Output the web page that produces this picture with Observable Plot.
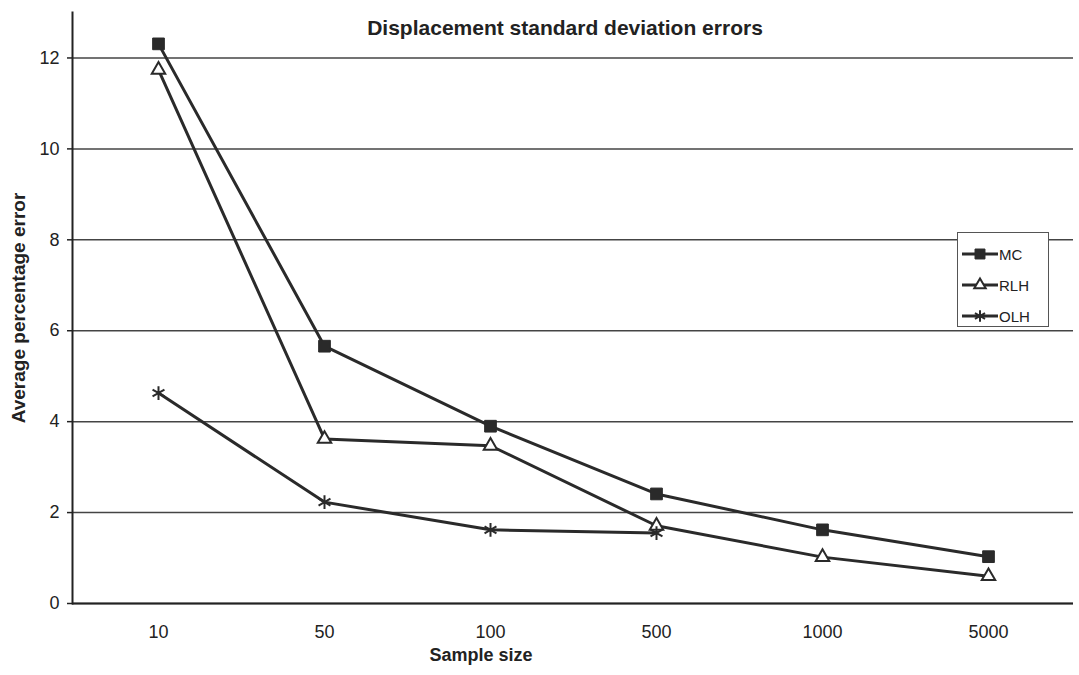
<!DOCTYPE html>
<html>
<head>
<meta charset="utf-8">
<script src="https://cdn.jsdelivr.net/npm/d3@7"></script>
<script src="https://cdn.jsdelivr.net/npm/@observablehq/plot@0.6"></script>
<style>
  body { margin: 0; background: #fff; font-family: "Liberation Sans", Arial, sans-serif; }
  #wrap { position: relative; width: 1079px; height: 675px; }
  #legend { position: absolute; left: 957px; top: 232px; width: 92px; height: 95px; box-sizing: border-box;
            border: 1px solid #555; background: #fff; }
  .item { position: absolute; left: 4px; height: 20px; display: flex; align-items: center; font-size: 15px; color: #222; }
  .item svg { margin-right: 1px; }
</style>
</head>
<body>
<div id="wrap"></div>
<script>
const title = "Displacement standard deviation errors";
const xLabel = "Sample size";
const yLabel = "Average percentage error";
const sampleSizes = ["10", "50", "100", "500", "1000", "5000"];
const seriesNames = ["MC", "RLH", "OLH"];
const mcValues = [12.31, 5.66, 3.90, 2.41, 1.62, 1.03];
const rlhValues = [11.74, 3.62, 3.47, 1.71, 1.02, 0.60];
const olhValues = [4.63, 2.23, 1.62, 1.55];
const yTicks = [0, 2, 4, 6, 8, 10, 12];

const valuesBySeries = {MC: mcValues, RLH: rlhValues, OLH: olhValues};
const rows = [];
for (const s of seriesNames) {
  valuesBySeries[s].forEach((v, i) => rows.push({series: s, size: sampleSizes[i], value: v}));
}
const lineColor = "#2a2a2a";
const symbols = {MC: "square", RLH: "triangle", OLH: "asterisk"};
const fills = {MC: lineColor, RLH: "#fff", OLH: "none"};
const radii = {MC: 6.6, RLH: 5, OLH: 6.5};

const chart = Plot.plot({
  width: 1079,
  height: 675,
  marginLeft: 72,
  marginRight: 6,
  marginTop: 12,
  marginBottom: 72,
  style: {fontFamily: "'Liberation Sans', Arial, sans-serif", fontSize: "18px", color: "#222", background: "transparent"},
  x: {type: "point", domain: sampleSizes, padding: 0.5},
  y: {domain: [0, 13]},
  marks: [
    Plot.gridY(yTicks, {stroke: "#444", strokeOpacity: 1, strokeWidth: 1.5}),
    Plot.axisY(yTicks, {tickSize: 5, tickPadding: 8, stroke: "#222", strokeWidth: 1.5, label: null, fontSize: 18}),
    Plot.axisX(sampleSizes, {tickSize: 0, tickPadding: 22, label: null, fontSize: 18}),
    Plot.frame({anchor: "left", stroke: "#222", strokeWidth: 2}),
    Plot.ruleY([0], {stroke: "#222", strokeWidth: 2}),
    Plot.line(rows, {x: "size", y: "value", z: "series", stroke: lineColor, strokeWidth: 3}),
    ...seriesNames.map(s => Plot.dot(rows.filter(d => d.series === s), {
      x: "size", y: "value", symbol: () => symbols[s], r: radii[s],
      fill: fills[s], stroke: lineColor, strokeWidth: s === "MC" ? 1 : 2
    })),
    Plot.text([title], {frameAnchor: "top", dx: -8, dy: 8, fontWeight: "bold", fontSize: 21, fill: "#222"}),
    Plot.text([xLabel], {frameAnchor: "bottom", dx: -92, dy: 57, fontWeight: "bold", fontSize: 18, fill: "#222"}),
    Plot.text([yLabel], {frameAnchor: "left", textAnchor: "middle", dx: -54, rotate: -90, fontWeight: "bold", fontSize: 19, fill: "#222"})
  ]
});

const wrap = document.getElementById("wrap");
wrap.appendChild(chart);

const legend = document.createElement("div");
legend.id = "legend";
const ns = "http://www.w3.org/2000/svg";
seriesNames.forEach((s, i) => {
  const item = document.createElement("div");
  item.className = "item";
  item.style.top = (11 + i * 31) + "px";
  const svg = document.createElementNS(ns, "svg");
  svg.setAttribute("width", 36);
  svg.setAttribute("height", 20);
  const line = document.createElementNS(ns, "line");
  line.setAttribute("x1", 0); line.setAttribute("x2", 36);
  line.setAttribute("y1", 10); line.setAttribute("y2", 10);
  line.setAttribute("stroke", lineColor); line.setAttribute("stroke-width", 3);
  svg.appendChild(line);
  const path = document.createElementNS(ns, "path");
  const symType = {square: d3.symbolSquare, triangle: d3.symbolTriangle, asterisk: d3.symbolAsterisk}[symbols[s]];
  const r = radii[s] * 0.85;
  path.setAttribute("d", d3.symbol(symType, Math.PI * r * r)());
  path.setAttribute("transform", "translate(18,10)");
  path.setAttribute("fill", fills[s]);
  path.setAttribute("stroke", lineColor);
  path.setAttribute("stroke-width", s === "MC" ? 1 : 2);
  svg.appendChild(path);
  item.appendChild(svg);
  const label = document.createElement("span");
  label.textContent = s;
  item.appendChild(label);
  legend.appendChild(item);
});
wrap.appendChild(legend);
</script>
</body>
</html>
